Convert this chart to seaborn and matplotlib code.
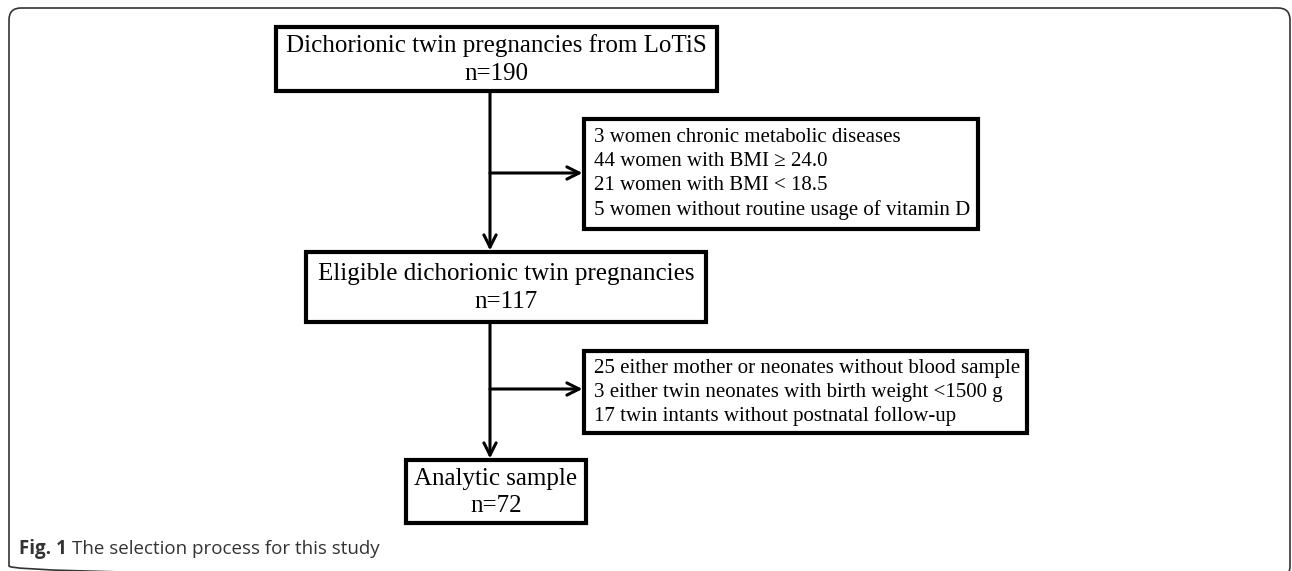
import matplotlib.pyplot as plt
import seaborn as sns
from matplotlib.patches import Rectangle, FancyBboxPatch

sns.set_style("white")

# dados do fluxograma
etapas = ["Dichorionic twin pregnancies from LoTiS",
          "Eligible dichorionic twin pregnancies",
          "Analytic sample"]
n_etapas = [190, 117, 72]

exclusao_1_n = [3, 44, 21, 5]
exclusao_1_txt = ["women chronic metabolic diseases",
                  "women with BMI \u2265 24.0",
                  "women with BMI < 18.5",
                  "women without routine usage of vitamin D"]
exclusao_2_n = [25, 3, 17]
exclusao_2_txt = ["either mother or neonates without blood sample",
                  "either twin neonates with birth weight <1500 g",
                  "twin intants without postnatal follow-up"]

legenda_fig = "Fig. 1"
legenda_txt = "The selection process for this study"

# layout em pixels (x0, y0, x1, y1)
caixas_etapas = [(276, 27, 717, 91), (306, 252, 706, 322), (406, 460, 586, 523)]
caixas_excl = [(584, 119, 978, 229), (584, 351, 1027, 433)]
x_seta = 490
y_ramos = [173, 389]

serif = ["Liberation Serif", "DejaVu Serif"]
sans = ["Open Sans", "DejaVu Sans"]
fig = plt.figure(figsize=(12.92, 5.71), dpi=100)
ax = fig.add_axes([0, 0, 1, 1])
ax.set_xlim(0, 1292)
ax.set_ylim(571, 0)
ax.axis("off")

# moldura externa
ax.add_patch(FancyBboxPatch((9, 8), 1281, 570, boxstyle="round,pad=0,rounding_size=12",
                            fill=False, lw=1.2, ec="#333333"))


def caixa(x0, y0, x1, y1):
    ax.add_patch(Rectangle((x0, y0), x1 - x0, y1 - y0, fill=False, lw=3, ec="black",
                           joinstyle="miter"))


for (x0, y0, x1, y1), nome, n in zip(caixas_etapas, etapas, n_etapas):
    caixa(x0, y0, x1, y1)
    xc = (x0 + x1) / 2
    ym = (y0 + y1) / 2
    ax.text(xc, ym - 13, nome, ha="center", va="center", fontsize=18, family=serif,
            color="black")
    ax.text(xc, ym + 15, f"n={n}", ha="center", va="center", fontsize=18, family=serif,
            color="black")

for (x0, y0, x1, y1), ns, txts in zip(caixas_excl, [exclusao_1_n, exclusao_2_n],
                                      [exclusao_1_txt, exclusao_2_txt]):
    caixa(x0, y0, x1, y1)
    ym = (y0 + y1) / 2
    k = len(ns)
    for i, (n, t) in enumerate(zip(ns, txts)):
        ax.text(x0 + 10, ym + (i - (k - 1) / 2) * 24, f"{n} {t}", ha="left", va="center",
                fontsize=15, family=serif, color="black")

seta = dict(arrowstyle="->", lw=2.2, color="black", mutation_scale=22, shrinkA=0, shrinkB=0)
for i in range(2):
    y_ini = caixas_etapas[i][3] + 1.5
    y_fim = caixas_etapas[i + 1][1] - 1.5
    ax.annotate("", xy=(x_seta, y_fim), xytext=(x_seta, y_ini), arrowprops=seta)
    ax.annotate("", xy=(caixas_excl[i][0] - 1.5, y_ramos[i]), xytext=(x_seta, y_ramos[i]),
                arrowprops=seta)

# legenda: parte em negrito seguida do texto normal
t1 = ax.text(19, 549, legenda_fig, ha="left", va="center", fontsize=13.5, fontweight="bold",
             family=sans, color="#333333")
fig.canvas.draw()
bb = t1.get_window_extent()
x_fim = ax.transData.inverted().transform((bb.x1, bb.y0))[0]
ax.text(x_fim + 5, 549, legenda_txt, ha="left", va="center", fontsize=13.5,
        family=sans, color="#333333")

fig.savefig("out.png", dpi=100)
